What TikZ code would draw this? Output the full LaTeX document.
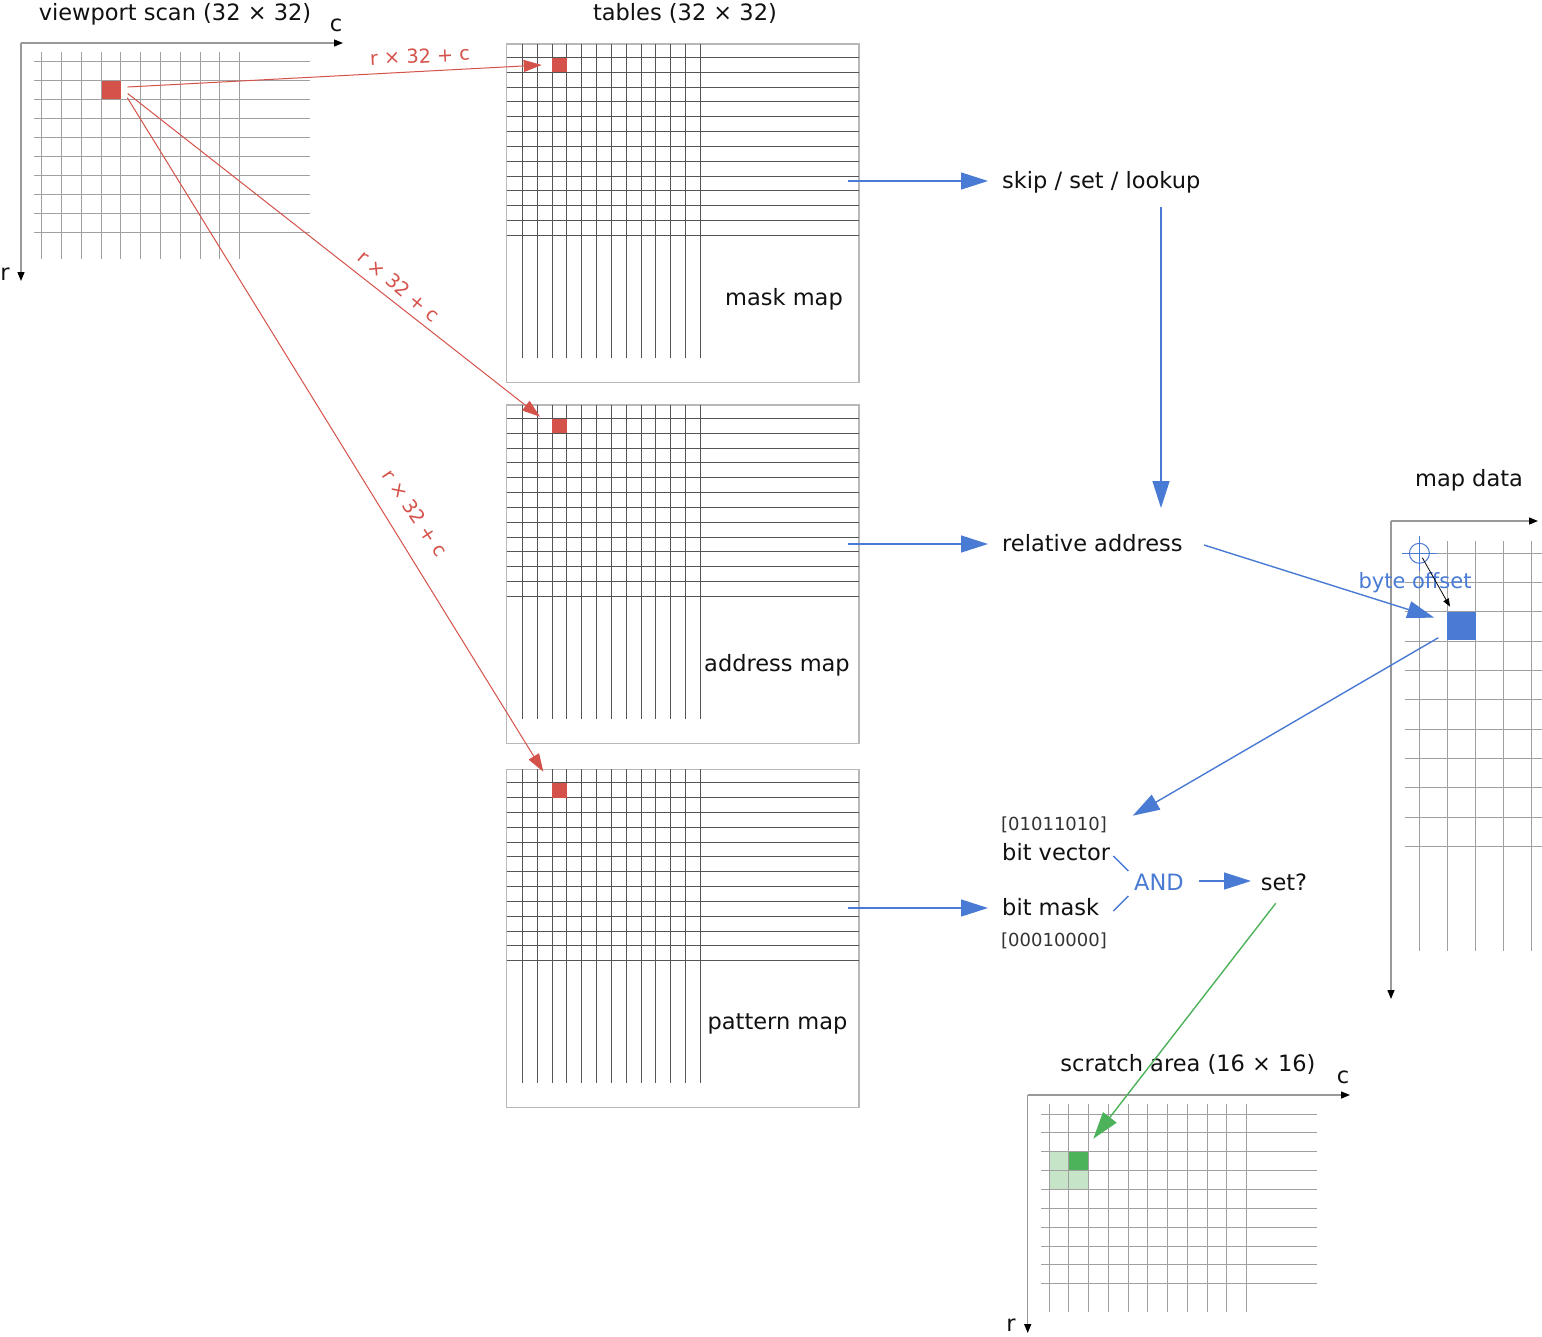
\documentclass[tikz,border=0pt]{standalone}
\usepackage{fontspec}
\setmainfont{DejaVu Sans}
\usetikzlibrary{arrows.meta}
\definecolor{cred}{HTML}{D4524A}
\definecolor{cblue}{HTML}{4A7BD4}
\definecolor{cgreen}{HTML}{4DB35A}
\definecolor{clgreen}{HTML}{C6E5C8}
\definecolor{cgrid}{HTML}{A0A0A0}
\definecolor{ctab}{HTML}{555555}
\definecolor{cbox}{HTML}{B8B8B8}
\definecolor{caxis}{HTML}{999999}
\definecolor{ctext}{HTML}{111111}
\definecolor{cbits}{HTML}{333333}
\begin{document}
\begin{tikzpicture}[x=1pt,y=-1pt,
  lbl/.style={inner sep=0pt,text=ctext,font=\fontsize{22.5}{26}\selectfont},
  small/.style={inner sep=0pt,text=cbits,font=\fontsize{18}{21}\selectfont},
  redlbl/.style={inner sep=0pt,text=cred,font=\fontsize{19.3}{22}\selectfont},
  bluelbl/.style={inner sep=0pt,text=cblue,font=\fontsize{21}{24}\selectfont},
  gridline/.style={draw=cgrid,line width=0.9pt},
  tabline/.style={draw=ctab,line width=0.8pt},
  tabbox/.style={draw=cbox,line width=1.4pt},
  axisline/.style={draw=caxis,line width=1.3pt,-{Triangle[length=9pt,width=7pt,color=black]}},
  redarrow/.style={draw=cred,line width=1pt,-{Triangle[length=18pt,width=12pt]}},
  bluearrow/.style={draw=cblue,line width=1.4pt,-{Triangle[length=27pt,width=17pt]}},
  blueline/.style={draw=cblue,line width=1.4pt},
  greenarrow/.style={draw=cgreen,line width=1.4pt,-{Triangle[length=27pt,width=17pt]}},
  blackarrow/.style={draw=black,line width=0.8pt,-{Triangle[length=8pt,width=6pt]}}]
\useasboundingbox[fill=white] (0,0) rectangle (1542,1336);

% ---------- viewport scan ----------
\node[lbl,anchor=base] (vtitle) at (175,20.5) {viewport scan (32 × 32)};
\coordinate (vo) at (21,43);
\coordinate (vc) at (343,43);
\coordinate (vr) at (21,281);
\foreach \k in {0,...,10} \draw[gridline] (41.7+19.8*\k,52.3) -- (41.7+19.8*\k,259.3);
\foreach \k in {0,...,9} \draw[gridline] (34,61.7+18.95*\k) -- (310,61.7+18.95*\k);
\draw[axisline] (vo) -- (vc);
\draw[axisline] (vo) -- (vr);
\node[lbl,anchor=base] (vclbl) at (336,31.7) {c};
\node[lbl,anchor=base] (vrlbl) at (5,280) {r};
\fill[cred] (101.5,80.5) rectangle (121,99.3);
\coordinate (vs1) at (127.7,87);
\coordinate (vs2) at (127.7,93.5);
\coordinate (vs3) at (127.3,97.7);

% ---------- tables ----------
\node[lbl,anchor=base] (ttitle) at (685,20.5) {tables (32 × 32)};
\foreach \T in {44,405,769.3}{
  \draw[tabbox] (506.7,\T) rectangle (859,\T+338.4);
  \foreach \k in {0,...,12} \draw[tabline] (506.7,\T+13.4+14.82*\k) -- (859,\T+13.4+14.82*\k);
  \foreach \k in {0,...,12} \draw[tabline] (522.3+14.83*\k,\T) -- (522.3+14.83*\k,\T+313.6);
  \fill[cred] (552.3,\T+13.6) rectangle (567,\T+28.3);
}
\coordinate (maskout) at (848,181);
\coordinate (addrout) at (848,544);
\coordinate (pattout) at (848,908);
\node[lbl,anchor=base] (maskl) at (784,305) {mask map};
\node[lbl,anchor=base] (addrl) at (777,671.7) {address map};
\node[lbl,anchor=base] (pattl) at (777.5,1029.3) {pattern map};

\coordinate (mt) at (541.7,65);
\coordinate (at) at (540,416.7);
\coordinate (pt) at (543.3,771.7);
\draw[redarrow] (vs1) -- (mt);
\draw[redarrow] (vs2) -- (at);
\draw[redarrow] (vs3) -- (pt);
\node[redlbl,rotate=3] (rl1) at (420,56) {r × 32 + c};
\node[redlbl,rotate=-40] (rl2) at (399,286) {r × 32 + c};
\node[redlbl,rotate=-56] (rl3) at (415,513) {r × 32 + c};

% ---------- middle column ----------
\node[lbl,anchor=base west] (skip) at (1002,188.3) {skip / set / lookup};
\node[lbl,anchor=base west] (rel) at (1002,551.5) {relative address};
\node[small,anchor=base west] (bv0) at (1001,830.7) {[01011010]};
\node[lbl,anchor=base west] (bv) at (1002,860) {bit vector};
\node[lbl,anchor=base west] (bm) at (1002,915) {bit mask};
\node[small,anchor=base west] (bm0) at (1001,946) {[00010000]};
\node[bluelbl,anchor=base,font=\fontsize{22.5}{26}\selectfont] (and) at (1159,890) {AND};
\node[lbl,anchor=base] (set) at (1284,890) {set?};

\coordinate (skipin) at (988,181);
\coordinate (relin) at (988,544);
\coordinate (bmin) at (988,908);
\draw[bluearrow] (maskout) -- (skipin);
\draw[bluearrow] (addrout) -- (relin);
\draw[bluearrow] (pattout) -- (bmin);
\coordinate (skipdown) at (1161,207);
\coordinate (relup) at (1161,508);
\draw[bluearrow] (skipdown) -- (relup);

\coordinate (bvend) at (1113.3,856);
\coordinate (andtl) at (1128.3,871);
\coordinate (bmend) at (1113.3,911);
\coordinate (andbl) at (1128.3,896);
\draw[blueline] (bvend) -- (andtl);
\draw[blueline] (bmend) -- (andbl);
\coordinate (andr) at (1199,881);
\coordinate (setl) at (1251,881);
\draw[bluearrow] (andr) -- (setl);

% ---------- map data ----------
\node[lbl,anchor=base] (mdtitle) at (1469,486.7) {map data};
\coordinate (mo) at (1391,521);
\coordinate (mc) at (1538,521);
\coordinate (mr) at (1391,999);
\foreach \k in {0,...,4} \draw[gridline] (1419.3+28.1*\k,541) -- (1419.3+28.1*\k,950.7);
\foreach \k in {0,...,10} \draw[gridline] (1404.7,553.3+29.32*\k) -- (1542,553.3+29.32*\k);
\draw[axisline] (mo) -- (mc);
\draw[axisline] (mo) -- (mr);
\fill[cblue] (1447.3,611.7) rectangle (1475.7,640.3);
\coordinate (cross) at (1419.4,553.3);
\draw[cblue,line width=1pt] (cross) circle (10);
\draw[cblue,line width=1pt] (1402,553.3) -- (1437,553.3) (1419.4,536) -- (1419.4,570.5);
\node[bluelbl,anchor=base] (boff) at (1415,588.3) {byte offset};
\coordinate (cfrom) at (1422.3,557.7);
\coordinate (cto) at (1450,606.7);
\draw[blackarrow] (cfrom) -- (cto);

\coordinate (relout) at (1204,545);
\coordinate (mdin) at (1434.3,617.7);
\draw[bluearrow] (relout) -- (mdin);
\coordinate (mdout) at (1438.3,637.7);
\coordinate (bvin) at (1132.7,815.7);
\draw[bluearrow] (mdout) -- (bvin);

% ---------- scratch area ----------
\node[lbl,anchor=base] (stitle) at (1188,1071.7) {scratch area (16 × 16)};
\coordinate (so) at (1027.7,1095);
\coordinate (sc) at (1350,1095);
\coordinate (sr) at (1027.7,1333);
\fill[clgreen] (1049,1151.7) rectangle (1088.3,1189.7);
\fill[cgreen] (1068.7,1151.7) rectangle (1088.3,1170.7);
\foreach \k in {0,...,10} \draw[gridline] (1049+19.77*\k,1104.3) -- (1049+19.77*\k,1311.7);
\foreach \k in {0,...,9} \draw[gridline] (1041,1114+18.85*\k) -- (1316.7,1114+18.85*\k);
\draw[axisline] (so) -- (sc);
\draw[axisline] (so) -- (sr);
\node[lbl,anchor=base] (sclbl) at (1343,1083.3) {c};
\node[lbl,anchor=base] (srlbl) at (1011,1331.7) {r};

\coordinate (setout) at (1275.7,903.3);
\coordinate (scin) at (1093.3,1138.7);
\draw[greenarrow] (setout) -- (scin);
\end{tikzpicture}
\end{document}
